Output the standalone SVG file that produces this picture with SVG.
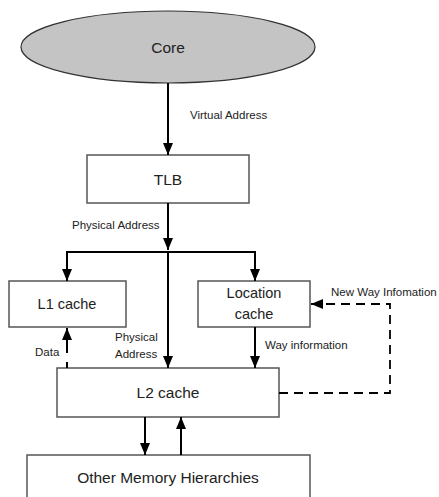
<svg xmlns="http://www.w3.org/2000/svg" width="439" height="497" viewBox="0 0 439 497">
<style>
.box{fill:#fff;stroke:#555;stroke-width:1.5}
.t{font-family:"Liberation Sans",Arial,sans-serif;fill:#222;text-anchor:middle;dominant-baseline:central}
.big{font-size:15.5px}
.lbl{font-size:11.5px;fill:#222;font-family:"Liberation Sans",Arial,sans-serif}
.ln{stroke:#000;stroke-width:2;fill:none}
.dash{stroke:#000;stroke-width:1.8;fill:none;stroke-dasharray:9 6}
</style>
<defs>
<marker id="ah" viewBox="0 0 12 10" refX="12" refY="5" markerWidth="12" markerHeight="10" markerUnits="userSpaceOnUse" orient="auto">
<path d="M0,0 L12,5 L0,10 z" fill="#000"/>
</marker>
</defs>
<rect width="439" height="497" fill="#fff"/>
<g id="core">
<ellipse cx="168" cy="47" rx="147" ry="36" fill="#c4c4c4" stroke="#333" stroke-width="1.2"/>
<text class="t big" x="168" y="47">Core</text>
</g>
<g id="tlb">
<rect class="box" x="87" y="155" width="162" height="48"/>
<text class="t big" x="168" y="179">TLB</text>
</g>
<g id="l1">
<rect class="box" x="9" y="281" width="117" height="46"/>
<text class="t" font-size="14.5" x="67" y="304">L1 cache</text>
</g>
<g id="loc">
<rect class="box" x="198" y="281" width="112" height="46"/>
<text class="t" font-size="14.5" x="254" y="293">Location</text>
<text class="t" font-size="14.5" x="254" y="314">cache</text>
</g>
<g id="l2">
<rect class="box" x="57" y="368" width="222" height="49"/>
<text class="t big" x="168" y="392">L2 cache</text>
</g>
<g id="mem">
<rect class="box" x="27" y="455" width="283" height="50"/>
<text class="t big" x="168" y="477">Other Memory Hierarchies</text>
</g>
<g id="connectors">
<line class="ln" x1="168" y1="83" x2="168" y2="155" marker-end="url(#ah)"/>
<line class="ln" x1="168" y1="203" x2="168" y2="250" marker-end="url(#ah)"/>
<line class="ln" x1="66" y1="252" x2="256" y2="252"/>
<line class="ln" x1="67" y1="251" x2="67" y2="281" marker-end="url(#ah)"/>
<line class="ln" x1="255" y1="251" x2="255" y2="281" marker-end="url(#ah)"/>
<line class="ln" x1="168" y1="252" x2="168" y2="368" marker-end="url(#ah)"/>
<line class="ln" x1="255" y1="327" x2="255" y2="368" marker-end="url(#ah)"/>
<line class="ln" x1="67" y1="368" x2="67" y2="328" marker-end="url(#ah)" stroke-dasharray="6 9 40"/>
<polyline class="dash" points="279,393 390,393 390,304 311,304" marker-end="url(#ah)"/>
<line class="ln" x1="145" y1="417" x2="145" y2="455" marker-end="url(#ah)"/>
<line class="ln" x1="181" y1="455" x2="181" y2="417" marker-end="url(#ah)"/>
</g>
<g id="labels">
<text class="lbl" x="190" y="119">Virtual Address</text>
<text class="lbl" x="72" y="229">Physical Address</text>
<text class="lbl" x="35" y="356">Data</text>
<text class="lbl" x="115" y="341">Physical</text>
<text class="lbl" x="115" y="358">Address</text>
<text class="lbl" x="265" y="349">Way information</text>
<text class="lbl" x="331" y="296">New Way Infomation</text>
</g>
</svg>
